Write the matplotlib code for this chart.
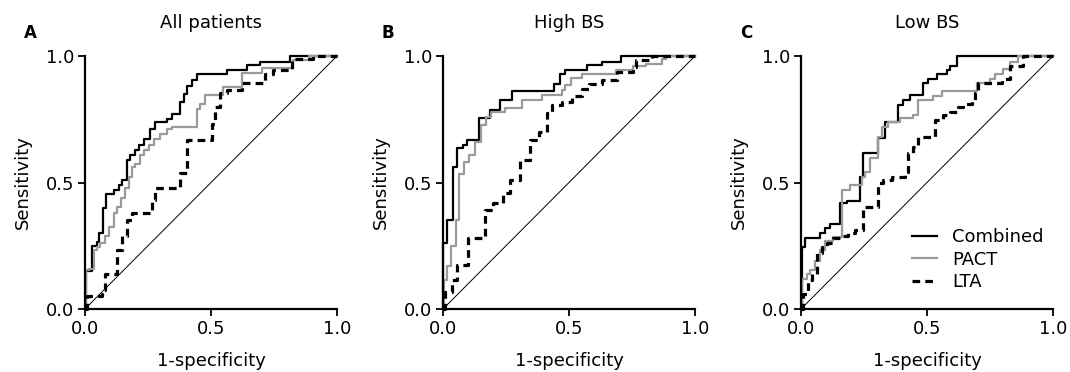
import matplotlib
matplotlib.use("Agg")
import matplotlib.pyplot as plt

plt.rcParams['font.family'] = ['DejaVu Sans']

panel_titles = ["All patients", "High BS", "Low BS"]
panel_letters = ["A", "B", "C"]
series_names = ["Combined", "PACT", "LTA"]
tick_values = [0.0, 0.5, 1.0]
tick_labels = ["0.0", "0.5", "1.0"]

# Panel A: All patients
a_comb_fpr = [0, 0.005, 0.028, 0.048, 0.054, 0.070, 0.083, 0.114, 0.134, 0.147, 0.167, 0.180, 0.197, 0.216, 0.233, 0.259, 0.279, 0.325, 0.345, 0.378, 0.392, 0.405, 0.425, 0.445, 0.562, 0.642, 0.694, 0.813, 1.0]
a_comb_tpr = [0, 0.15, 0.25, 0.265, 0.30, 0.40, 0.455, 0.47, 0.49, 0.51, 0.59, 0.61, 0.63, 0.65, 0.67, 0.71, 0.74, 0.75, 0.77, 0.82, 0.85, 0.88, 0.905, 0.93, 0.945, 0.964, 0.978, 1.0, 1.0]
a_pact_fpr = [0, 0.004, 0.015, 0.034, 0.048, 0.061, 0.081, 0.094, 0.114, 0.127, 0.144, 0.157, 0.173, 0.187, 0.200, 0.220, 0.233, 0.253, 0.272, 0.299, 0.325, 0.345, 0.444, 0.458, 0.478, 0.549, 0.622, 0.701, 0.825, 0.89, 1.0]
a_pact_tpr = [0, 0.154, 0.16, 0.233, 0.246, 0.26, 0.29, 0.325, 0.38, 0.405, 0.44, 0.48, 0.52, 0.56, 0.575, 0.61, 0.63, 0.65, 0.67, 0.69, 0.71, 0.72, 0.79, 0.81, 0.845, 0.879, 0.932, 0.951, 0.984, 1.0, 1.0]
a_lta_fpr = [0, 0.007, 0.066, 0.079, 0.126, 0.145, 0.165, 0.185, 0.265, 0.278, 0.377, 0.403, 0.503, 0.516, 0.536, 0.562, 0.622, 0.714, 0.747, 0.820, 0.906, 1.0]
a_lta_tpr = [0, 0.05, 0.075, 0.14, 0.233, 0.29, 0.35, 0.378, 0.43, 0.48, 0.536, 0.668, 0.733, 0.80, 0.852, 0.866, 0.892, 0.93, 0.945, 0.99, 1.0, 1.0]

# Panel B: High BS
b_comb_fpr = [0, 0.001, 0.015, 0.038, 0.056, 0.078, 0.095, 0.143, 0.187, 0.227, 0.272, 0.44, 0.466, 0.486, 0.572, 0.632, 0.705, 1.0]
b_comb_tpr = [0, 0.26, 0.35, 0.56, 0.635, 0.65, 0.668, 0.754, 0.787, 0.826, 0.86, 0.89, 0.93, 0.945, 0.964, 0.978, 1.0, 1.0]
b_pact_fpr = [0, 0.003, 0.015, 0.030, 0.050, 0.065, 0.085, 0.105, 0.128, 0.150, 0.170, 0.190, 0.247, 0.313, 0.393, 0.473, 0.486, 0.506, 0.552, 0.685, 0.752, 0.805, 0.871, 0.885, 1.0]
b_pact_tpr = [0, 0.115, 0.17, 0.25, 0.35, 0.535, 0.58, 0.61, 0.66, 0.727, 0.757, 0.78, 0.793, 0.826, 0.846, 0.866, 0.885, 0.912, 0.93, 0.945, 0.96, 0.97, 0.99, 1.0, 1.0]
b_lta_fpr = [0, 0.008, 0.035, 0.054, 0.101, 0.165, 0.2, 0.24, 0.267, 0.307, 0.347, 0.38, 0.413, 0.433, 0.473, 0.513, 0.552, 0.579, 0.632, 0.692, 0.752, 0.765, 0.831, 1.0]
b_lta_tpr = [0, 0.068, 0.115, 0.175, 0.28, 0.39, 0.417, 0.457, 0.51, 0.59, 0.668, 0.70, 0.773, 0.806, 0.82, 0.84, 0.87, 0.89, 0.905, 0.935, 0.958, 0.984, 1.0, 1.0]

# Panel C: Low BS
c_comb_fpr = [0, 0.003, 0.016, 0.075, 0.095, 0.115, 0.155, 0.181, 0.234, 0.247, 0.307, 0.333, 0.386, 0.406, 0.433, 0.485, 0.505, 0.538, 0.578, 0.591, 0.618, 1.0]
c_comb_tpr = [0, 0.246, 0.28, 0.30, 0.32, 0.335, 0.418, 0.425, 0.523, 0.615, 0.675, 0.74, 0.806, 0.826, 0.846, 0.892, 0.91, 0.93, 0.945, 0.96, 1.0, 1.0]
c_pact_fpr = [0, 0.002, 0.022, 0.036, 0.056, 0.075, 0.095, 0.128, 0.161, 0.194, 0.241, 0.254, 0.274, 0.307, 0.32, 0.347, 0.393, 0.446, 0.466, 0.525, 0.558, 0.697, 0.75, 0.77, 0.803, 0.829, 0.862, 1.0]
c_pact_tpr = [0, 0.12, 0.14, 0.154, 0.19, 0.233, 0.27, 0.286, 0.47, 0.49, 0.52, 0.54, 0.595, 0.68, 0.72, 0.74, 0.754, 0.767, 0.826, 0.84, 0.86, 0.892, 0.91, 0.93, 0.95, 0.978, 1.0, 1.0]
c_lta_fpr = [0, 0.009, 0.029, 0.042, 0.062, 0.082, 0.102, 0.128, 0.161, 0.188, 0.214, 0.247, 0.307, 0.327, 0.36, 0.413, 0.426, 0.446, 0.466, 0.532, 0.565, 0.591, 0.624, 0.644, 0.677, 0.69, 0.704, 0.796, 0.829, 0.882, 1.0]
c_lta_tpr = [0, 0.06, 0.115, 0.14, 0.22, 0.246, 0.26, 0.28, 0.29, 0.30, 0.312, 0.404, 0.497, 0.51, 0.523, 0.543, 0.615, 0.64, 0.68, 0.747, 0.767, 0.78, 0.80, 0.81, 0.826, 0.852, 0.892, 0.91, 0.96, 1.0, 1.0]

panels = [
    [(a_comb_fpr, a_comb_tpr), (a_pact_fpr, a_pact_tpr), (a_lta_fpr, a_lta_tpr)],
    [(b_comb_fpr, b_comb_tpr), (b_pact_fpr, b_pact_tpr), (b_lta_fpr, b_lta_tpr)],
    [(c_comb_fpr, c_comb_tpr), (c_pact_fpr, c_pact_tpr), (c_lta_fpr, c_lta_tpr)],
]

styles = [
    dict(color='black', lw=1.6, linestyle='-'),
    dict(color='#9a9a9a', lw=1.6, linestyle='-'),
    dict(color='black', lw=2.3, linestyle=(0, (2.4, 1.6))),
]

W, H = 1070, 372
fig = plt.figure(figsize=(W / 100, H / 100), dpi=100)

lefts = [85, 443, 801]
ax_w, ax_h = 252, 253
ax_bottom = H - 309
fs = 13

for i, left in enumerate(lefts):
    ax = fig.add_axes([left / W, ax_bottom / H, ax_w / W, ax_h / H])
    ax.plot([0, 1], [0, 1], color='black', lw=0.7)
    for (fpr, tpr), st, name in zip(panels[i], styles, series_names):
        ax.plot(fpr, tpr, drawstyle='steps-post', clip_on=False, label=name, **st)
    ax.set_xlim(0, 1)
    ax.set_ylim(0, 1)
    ax.set_xticks(tick_values)
    ax.set_xticklabels(tick_labels)
    ax.set_yticks(tick_values)
    ax.set_yticklabels(tick_labels)
    for s in ['top', 'right']:
        ax.spines[s].set_visible(False)
    for s in ['left', 'bottom']:
        ax.spines[s].set_linewidth(1.6)
    ax.tick_params(direction='out', length=5, width=1.3, labelsize=fs, pad=3)
    ax.set_xlabel("1-specificity", fontsize=fs, labelpad=10)
    ax.set_ylabel("Sensitivity", fontsize=fs, labelpad=10)
    ax.set_title(panel_titles[i], fontsize=fs, pad=20)
    fig.text((left - 55) / W, 1 - 33 / H, panel_letters[i], fontsize=12,
             fontweight='bold', ha='center', va='center')
    if i == 2:
        ax.legend(loc='lower right', bbox_to_anchor=(0.99, 0.042), frameon=False,
                  fontsize=fs, handlelength=1.4, handletextpad=0.8,
                  labelspacing=0.25, borderaxespad=0.0)

fig.savefig("out.png", dpi=100)
